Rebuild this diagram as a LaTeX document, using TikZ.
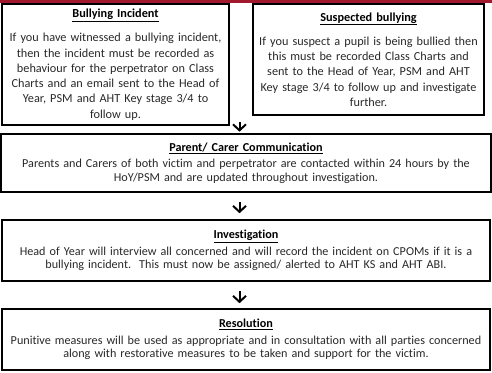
\documentclass[tikz,border=0pt]{standalone}
\usepackage{fontspec}
\setmainfont{Carlito}[Ligatures=NoCommon]
\usetikzlibrary{arrows.meta}

\definecolor{schoolred}{RGB}{160,25,45}
\definecolor{bodygrey}{RGB}{40,40,40}

\tikzset{
    flowbox/.style={draw, line width=1.6bp, inner sep=0pt, align=center, text=bodygrey},
    topbox/.style={flowbox, font=\fontsize{12.3}{15.3}\selectfont},
    stagebox/.style={flowbox, font=\fontsize{12.2}{13.4}\selectfont, minimum width=488bp, text width=484bp},
    flowarrow/.style={line width=2bp, -{Straight Barb[length=6bp,width=13bp]}}
}
\newcommand{\boxtitle}[1]{\textcolor{black}{\textbf{\underline{#1}}}}

\begin{document}
\begin{tikzpicture}[x=1bp,y=-1bp]

            \useasboundingbox (0,0) rectangle (492,372);
            \fill[schoolred] (0,0) rectangle (492,2.8);

            % the two starting points
            \node[topbox, minimum width=227bp, minimum height=121bp, text width=225bp] (incident) at (115.5,64.5)
                {\boxtitle{Bullying Incident}\\[9bp]
                 If you have witnessed a bullying incident,\\
                 then the incident must be recorded as\\
                 behaviour for the perpetrator on Class\\
                 Charts and an email sent to the Head of\\
                 Year, PSM and AHT Key stage 3/4 to\\
                 follow up.};
            \node[topbox, minimum width=231bp, minimum height=111bp, text width=231bp] (suspected) at (368.5,59.5)
                {\boxtitle{Suspected bullying}\\[9bp]
                 If you suspect a pupil is being bullied then\\
                 this must be recorded Class Charts and\\
                 sent to the Head of Year, PSM and AHT\\
                 Key stage 3/4 to follow up and investigate\\
                 further.};

            % the stages
            \node[stagebox, minimum width=490bp, minimum height=58bp] (carer) at (246,163)
                {\boxtitle{Parent/ Carer Communication}\\[3.5bp]
                 Parents and Carers of both victim and perpetrator are contacted within 24 hours by the\\
                 HoY/PSM and are updated throughout investigation.};
            \node[stagebox, minimum height=61bp] (investigation) at (246,250.5)
                {\boxtitle{Investigation}\\[3.5bp]
                 Head of Year will interview all concerned and will record the incident on CPOMs if it is a\\
                 bullying incident.\ \ This must now be assigned/ alerted to AHT KS and AHT ABI.};
            \node[stagebox, minimum height=61bp] (resolution) at (246,339.5)
                {\boxtitle{Resolution}\\[3.5bp]
                 Punitive measures will be used as appropriate and in consultation with all parties concerned\\
                 along with restorative measures to be taken and support for the victim.};

            \coordinate (axis) at (239.5,0);
            \draw[flowarrow, shorten <=-4bp, shorten >=1.5bp] (incident.south -| axis) -- (carer.north -| axis);
            \draw[flowarrow, shorten <=9bp, shorten >=6bp] (carer.south -| axis) -- (investigation.north -| axis);
            \draw[flowarrow, shorten <=9bp, shorten >=5bp] (investigation.south -| axis) -- (resolution.north -| axis);
        \end{tikzpicture}
\end{document}
